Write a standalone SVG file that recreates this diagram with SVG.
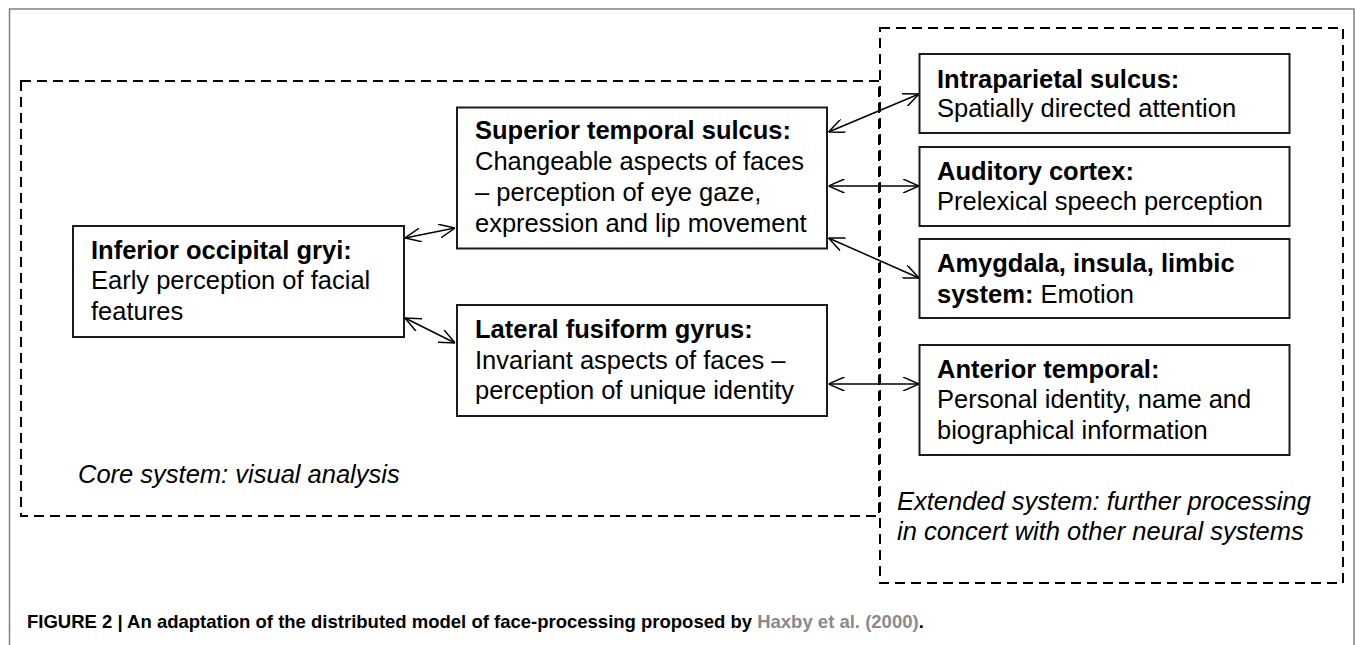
<svg xmlns="http://www.w3.org/2000/svg" width="1355" height="645" viewBox="0 0 1355 645">
<style>
text{font-family:"Liberation Sans",Arial,sans-serif;font-size:25.5px;fill:#000}
.b{font-weight:bold}
.i{font-style:italic}
.box{fill:#fff;stroke:#1a1a1a;stroke-width:2}
.dash{fill:none;stroke:#000;stroke-width:2;stroke-dasharray:10 6}
.conn{fill:none;stroke:#000;stroke-width:1.5;marker-start:url(#ah);marker-end:url(#ah)}
.cap{font-size:18.5px;font-weight:bold}
</style>
<defs>
<marker id="ah" viewBox="0 0 16 14" refX="16" refY="7" markerWidth="16" markerHeight="14" markerUnits="userSpaceOnUse" orient="auto-start-reverse">
<path d="M0,0 L16,7 L0,14" fill="none" stroke="#000" stroke-width="1.5"/>
</marker>
</defs>
<rect width="1355" height="645" fill="#fff"/>
<path d="M9.5,660 V9 H1354 V660" fill="none" stroke="#808080" stroke-width="1.5"/>
<g id="core-system">
<rect class="dash" x="21" y="81" width="858" height="435"/>
<text class="i" x="78" y="483">Core system: visual analysis</text>
</g>
<g id="extended-system">
<rect class="dash" x="880" y="28" width="463" height="555"/>
<text class="i" x="897" y="510">Extended system: further processing</text>
<text class="i" x="897" y="540">in concert with other neural systems</text>
</g>
<g id="connectors">
<line class="conn" x1="405" y1="238" x2="455" y2="228"/>
<line class="conn" x1="405" y1="318" x2="455" y2="343"/>
<line class="conn" x1="828.5" y1="132" x2="919" y2="94"/>
<line class="conn" x1="828.5" y1="186" x2="919" y2="186"/>
<line class="conn" x1="828.5" y1="238" x2="919" y2="278"/>
<line class="conn" x1="828.5" y1="384" x2="919" y2="384"/>
</g>
<g id="inferior-occipital">
<rect class="box" x="73" y="226" width="331" height="111"/>
<text class="b" x="91" y="259">Inferior occipital gryi:</text>
<text x="91" y="289">Early perception of facial</text>
<text x="91" y="320">features</text>
</g>
<g id="superior-temporal">
<rect class="box" x="457" y="107.5" width="370" height="141"/>
<text class="b" x="475" y="139">Superior temporal sulcus:</text>
<text x="475" y="170">Changeable aspects of faces</text>
<text x="475" y="201">– perception of eye gaze,</text>
<text x="475" y="232">expression and lip movement</text>
</g>
<g id="lateral-fusiform">
<rect class="box" x="457" y="305" width="370" height="111"/>
<text class="b" x="475" y="338">Lateral fusiform gyrus:</text>
<text x="475" y="369">Invariant aspects of faces –</text>
<text x="475" y="399">perception of unique identity</text>
</g>
<g id="intraparietal">
<rect class="box" x="919.5" y="54" width="370" height="79"/>
<text class="b" x="937" y="88">Intraparietal sulcus:</text>
<text x="937" y="117">Spatially directed attention</text>
</g>
<g id="auditory">
<rect class="box" x="919.5" y="147" width="370" height="79"/>
<text class="b" x="937" y="180">Auditory cortex:</text>
<text x="937" y="210">Prelexical speech perception</text>
</g>
<g id="amygdala">
<rect class="box" x="919.5" y="239" width="370" height="79"/>
<text class="b" x="937" y="272">Amygdala, insula, limbic</text>
<text x="937" y="303"><tspan class="b">system:</tspan> Emotion</text>
</g>
<g id="anterior-temporal">
<rect class="box" x="919.5" y="345" width="370" height="110"/>
<text class="b" x="937" y="378">Anterior temporal:</text>
<text x="937" y="408">Personal identity, name and</text>
<text x="937" y="439">biographical information</text>
</g>
<text class="cap" x="27" y="628">FIGURE 2 | An adaptation of the distributed model of face-processing proposed by <tspan fill="#8a8a8a">Haxby et al. (2000)</tspan>.</text>
</svg>
